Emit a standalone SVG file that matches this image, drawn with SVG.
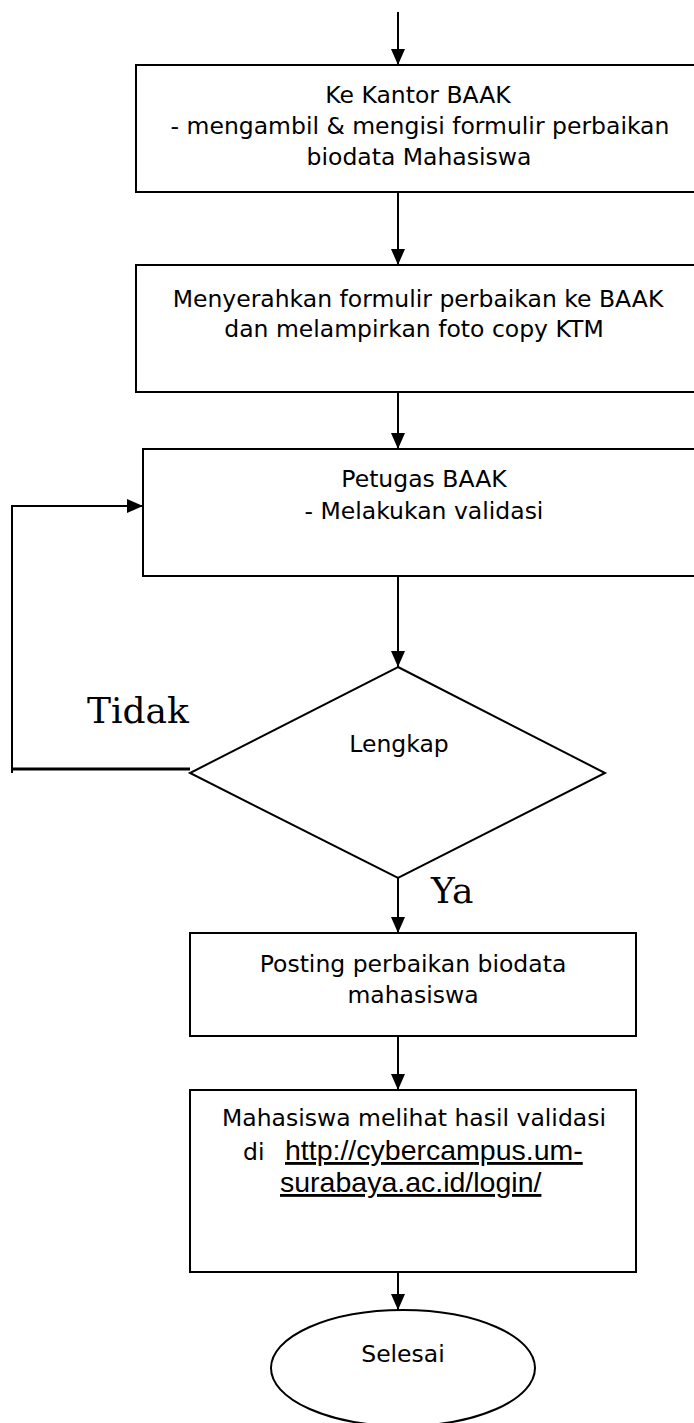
<svg xmlns="http://www.w3.org/2000/svg" width="694" height="1423" viewBox="0 0 694 1423">
<style>
.box{fill:#fff;stroke:#000;stroke-width:2}
.t{font-family:"DejaVu Sans","Liberation Sans",sans-serif;font-size:23.5px;fill:#000;text-anchor:middle}
.u{font-family:"Liberation Sans",Arial,sans-serif;font-size:28.5px;fill:#000;text-decoration:underline}
.lbl{font-family:"DejaVu Serif","Liberation Serif",serif;font-size:36px;fill:#000}
.c{fill:none;stroke:#000;stroke-width:2}
</style>
<defs>
<marker id="ah" viewBox="0 0 16 14" refX="16" refY="7" markerWidth="16" markerHeight="14" markerUnits="userSpaceOnUse" orient="auto">
<path d="M0,0 L16,7 L0,14 Z" fill="#000"/>
</marker>
</defs>
<g id="connectors">
<line class="c" x1="398" y1="12" x2="398" y2="65" marker-end="url(#ah)"/>
<line class="c" x1="398" y1="192" x2="398" y2="265" marker-end="url(#ah)"/>
<line class="c" x1="398" y1="392" x2="398" y2="449" marker-end="url(#ah)"/>
<line class="c" x1="398" y1="576" x2="398" y2="667" marker-end="url(#ah)"/>
<line class="c" x1="398" y1="878" x2="398" y2="933" marker-end="url(#ah)"/>
<line class="c" x1="398" y1="1036" x2="398" y2="1090" marker-end="url(#ah)"/>
<line class="c" x1="398" y1="1272" x2="398" y2="1310" marker-end="url(#ah)"/>
<line x1="190" y1="769" x2="12" y2="769" stroke="#000" stroke-width="3"/>
<polyline class="c" points="12,773 12,506 143,506" marker-end="url(#ah)"/>
</g>
<g id="n1">
<rect class="box" x="136" y="65" width="570" height="127"/>
<text class="t" x="418" y="103">Ke Kantor BAAK</text>
<text class="t" x="420" y="134">- mengambil &amp; mengisi formulir perbaikan</text>
<text class="t" x="419" y="165">biodata Mahasiswa</text>
</g>
<g id="n2">
<rect class="box" x="136" y="265" width="570" height="127"/>
<text class="t" x="418" y="307">Menyerahkan formulir perbaikan ke BAAK</text>
<text class="t" x="414" y="337">dan melampirkan foto copy KTM</text>
</g>
<g id="n3">
<rect class="box" x="143" y="449" width="563" height="127"/>
<text class="t" x="424" y="487">Petugas BAAK</text>
<text class="t" x="424" y="519">- Melakukan validasi</text>
</g>
<g id="n4">
<polygon class="box" points="398,667 605,773 398,878 190,773"/>
<text class="t" x="399" y="752">Lengkap</text>
</g>
<g id="lblTidak"><text class="lbl" x="87" y="723">Tidak</text></g>
<g id="lblYa"><text class="lbl" x="431" y="903">Ya</text></g>
<g id="n5">
<rect class="box" x="190" y="933" width="446" height="103"/>
<text class="t" x="413" y="972">Posting perbaikan biodata</text>
<text class="t" x="413" y="1003">mahasiswa</text>
</g>
<g id="n6">
<rect class="box" x="190" y="1090" width="446" height="182"/>
<text class="t" x="414" y="1126">Mahasiswa melihat hasil validasi</text>
<text class="t" x="243" y="1160" style="text-anchor:start">di</text>
<text class="u" x="285" y="1160">http://cybercampus.um-</text>
<text class="u" x="280" y="1192">surabaya.ac.id/login/</text>
</g>
<g id="n7">
<ellipse class="box" cx="403" cy="1368" rx="132" ry="58"/>
<text class="t" x="403" y="1362">Selesai</text>
</g>
</svg>
